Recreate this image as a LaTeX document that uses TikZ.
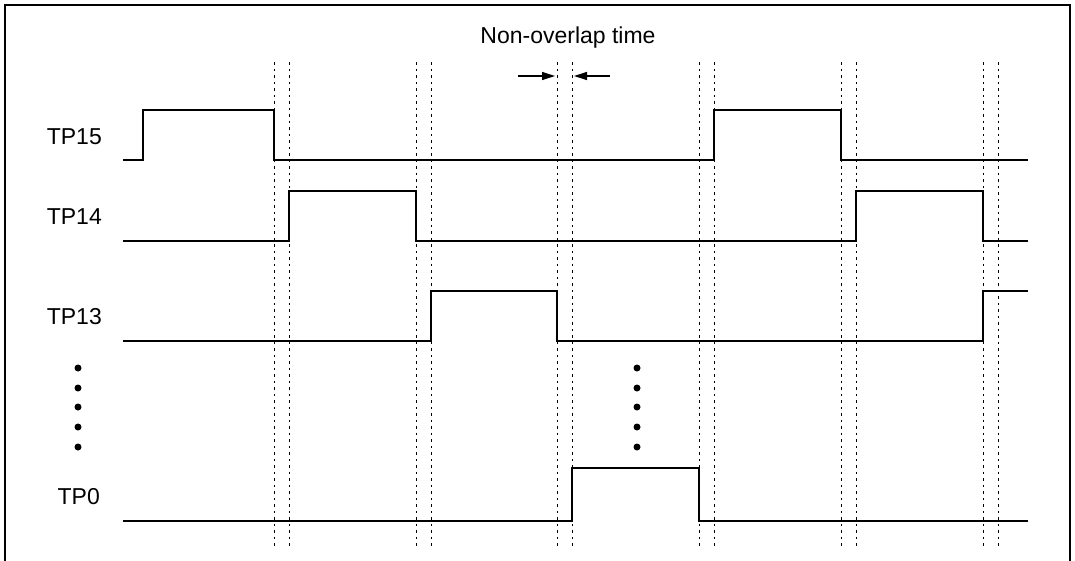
\documentclass[tikz,border=0pt]{standalone}
\usepackage{fontspec}
\setmainfont{Liberation Sans}
\usetikzlibrary{arrows.meta}
\tikzset{
  sig/.style={line width=1.2pt, color=black},
  guide/.style={line width=1pt, dash pattern=on 2.5pt off 4pt},
  lbl/.style={font=\fontsize{23}{27}\selectfont, inner sep=0pt},
  gap/.style={-{Triangle[length=13pt,width=8pt]}, line width=1.2pt}
}
\begin{document}
\begin{tikzpicture}[x=1pt,y=-1pt]
\useasboundingbox (0,0) rectangle (1075,560);
% frame, open at the bottom
\draw[line width=2pt] (5,570) -- (5,5) -- (1070,5) -- (1070,570);

% pairs of guide lines
\foreach \gx in {274,416,557,699,841,983}{
  \draw[guide] (\gx,62) -- (\gx,548);
  \draw[guide] (\gx+15,62) -- (\gx+15,548);
}

% title and the two arrows
\node[lbl, anchor=base] (title) at (568,43) {Non-overlap time};
\coordinate (la) at (518,76);
\coordinate (lb) at (555,76);
\coordinate (ra) at (610,76);
\coordinate (rb) at (574,76);
\draw[gap] (la) -- (lb);
\draw[gap] (ra) -- (rb);

% TP15
\node[lbl, anchor=base east] (tp15) at (102,144) {TP15};
\draw[sig] (123,160) -- (143,160) -- (143,110) -- (274,110) -- (274,160)
  -- (714,160) -- (714,110) -- (841,110) -- (841,160) -- (1028,160);

% TP14
\node[lbl, anchor=base east] (tp14) at (102,224) {TP14};
\draw[sig] (123,241) -- (289,241) -- (289,191) -- (416,191) -- (416,241)
  -- (856,241) -- (856,191) -- (983,191) -- (983,241) -- (1028,241);

% TP13
\node[lbl, anchor=base east] (tp13) at (102,324) {TP13};
\draw[sig] (123,341) -- (431,341) -- (431,291) -- (557,291) -- (557,341)
  -- (983,341) -- (983,291) -- (1028,291);

% dots
\foreach \dy in {368,388,407,427,447}{
  \fill (78,\dy) circle (3.5);
  \fill (637,\dy) circle (3.5);
}

% TP0
\node[lbl, anchor=base east] (tp0) at (100,504) {TP0};
\draw[sig] (123,521) -- (572,521) -- (572,468) -- (699,468) -- (699,521)
  -- (1028,521);
\end{tikzpicture}
\end{document}
